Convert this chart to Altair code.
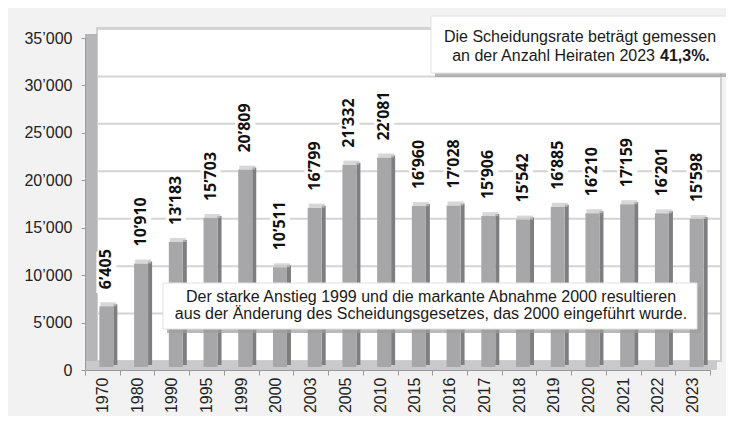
import altair as alt
import pandas as pd

years = ["1970", "1980", "1990", "1995", "1999", "2000", "2003", "2005", "2010",
         "2015", "2016", "2017", "2018", "2019", "2020", "2021", "2022", "2023"]
values = [6405, 10910, 13183, 15703, 20809, 10511, 16799, 21332, 22081,
          16960, 17028, 15906, 15542, 16885, 16210, 17159, 16201, 15598]
labels = [f"{v:,}".replace(",", "\u2019") for v in values]
y_ticks = [0, 5000, 10000, 15000, 20000, 25000, 30000, 35000]
grid_values = [5000, 10000, 15000, 20000, 25000, 30000, 35000]

note_top_1 = "Die Scheidungsrate beträgt gemessen"
note_top_2a = "an der Anzahl Heiraten 2023"
note_top_2b = "41,3%."
note_bottom_1 = "Der starke Anstieg 1999 und die markante Abnahme 2000 resultieren"
note_bottom_2 = "aus der Änderung des Scheidungsgesetzes, das 2000 eingeführt wurde."

df = pd.DataFrame({"year": years, "v": values, "label": labels})
one = pd.DataFrame({"d": [0]})
grid = pd.DataFrame({"g": grid_values})

FONT = "Liberation Sans"

yscale = alt.Scale(domain=[0, 35000], nice=False, zero=True)
yaxis = alt.Axis(values=y_ticks, title=None, grid=False,
                 labelExpr="replace(format(datum.value, ','), ',', '\u2019')",
                 labelFont=FONT, labelFontSize=16, labelColor="#222222",
                 tickSize=4, tickColor="#9a9a9a", domainColor="#9a9a9a",
                 labelPadding=9, zindex=1)
xscale = alt.Scale(domain=years, paddingInner=0, paddingOuter=0)
xaxis = alt.Axis(title=None, labelAngle=270, labelFont=FONT, labelFontSize=16,
                 labelColor="#222222", tickBand="extent", tickSize=5,
                 tickColor="#9a9a9a", domainColor="#9a9a9a", labelPadding=2,
                 zindex=1)

X = alt.X("year:N", sort=years, scale=xscale, axis=xaxis)
Y = alt.Y("v:Q", scale=yscale, axis=yaxis)

wall = alt.Chart(one).mark_rect(fill="white", stroke="#cfcfcf", strokeWidth=2).encode(
    x=alt.value(12), x2=alt.value(636), y=alt.value(-10), y2=alt.value(323))
leftwall = alt.Chart(one).mark_rect(fill="#b6b6b8").encode(
    x=alt.value(0), x2=alt.value(12), y=alt.value(-4), y2=alt.value(332))
floor = alt.Chart(one).mark_rect(fill="#c9c9cb").encode(
    x=alt.value(0), x2=alt.value(632), y=alt.value(323), y2=alt.value(332))

gridlines = alt.Chart(grid).mark_rule(color="#d4d4d4", strokeWidth=2, yOffset=-9).encode(
    y=alt.Y("g:Q", scale=yscale, axis=yaxis), x=alt.value(12), x2=alt.value(635))

label_boxes = alt.Chart(df).transform_calculate(vt="datum.v + 6100").mark_bar(
    color="white", size=20, xOffset=4, yOffset=-16).encode(x=X, y=Y, y2="vt:Q")

bar_side = alt.Chart(df).mark_bar(color="#7e7e81", size=4, xOffset=13, yOffset=-5).encode(x=X, y=Y)
bar_front = alt.Chart(df).mark_bar(color="#a7a7aa", size=14, xOffset=4, yOffset=-3).encode(x=X, y=Y)
bar_top = alt.Chart(df).mark_tick(orient="horizontal", color="#c6c6c8", thickness=4,
                                  size=16, xOffset=6, yOffset=-5).encode(x=X, y=Y)

value_labels = alt.Chart(df).mark_text(
    angle=270, align="left", baseline="middle", font="Open Sans", fontWeight="bold",
    fontSize=16, color="#111111", xOffset=4, yOffset=-20).encode(x=X, y=Y, text="label:N")

# top annotation
top_shadow = alt.Chart(one).mark_rect(fill="#9d9d9d", opacity=0.7).encode(
    x=alt.value(350), x2=alt.value(646), y=alt.value(-18), y2=alt.value(39))
top_box = alt.Chart(one).mark_rect(fill="white", stroke="#e2e2e2", strokeWidth=1).encode(
    x=alt.value(346), x2=alt.value(642), y=alt.value(-22), y2=alt.value(35))
top_t1 = alt.Chart(one).mark_text(font=FONT, fontSize=16, color="#1a1a1a", align="center",
                                  baseline="alphabetic").encode(
    x=alt.value(495), y=alt.value(4), text=alt.value(note_top_1))
top_t2a = alt.Chart(one).mark_text(font=FONT, fontSize=16, color="#1a1a1a", align="right",
                                   baseline="alphabetic").encode(
    x=alt.value(570), y=alt.value(23), text=alt.value(note_top_2a))
top_t2b = alt.Chart(one).mark_text(font=FONT, fontSize=16, color="#1a1a1a", align="left",
                                   baseline="alphabetic", fontWeight="bold").encode(
    x=alt.value(575), y=alt.value(23), text=alt.value(note_top_2b))

# bottom annotation
bot_shadow = alt.Chart(one).mark_rect(fill="#9d9d9d", opacity=0.7).encode(
    x=alt.value(82), x2=alt.value(616), y=alt.value(249), y2=alt.value(295))
bot_box = alt.Chart(one).mark_rect(fill="white", stroke="#e2e2e2", strokeWidth=1).encode(
    x=alt.value(78), x2=alt.value(612), y=alt.value(245), y2=alt.value(291))
bot_t1 = alt.Chart(one).mark_text(font=FONT, fontSize=16, color="#1a1a1a", align="center",
                                  baseline="alphabetic").encode(
    x=alt.value(346), y=alt.value(264), text=alt.value(note_bottom_1))
bot_t2 = alt.Chart(one).mark_text(font=FONT, fontSize=16, color="#1a1a1a", align="center",
                                  baseline="alphabetic").encode(
    x=alt.value(346), y=alt.value(281), text=alt.value(note_bottom_2))

chart = alt.layer(
    wall, leftwall, floor, gridlines, label_boxes, bar_side, bar_front, bar_top,
    value_labels, top_shadow, top_box, top_t1, top_t2a, top_t2b,
    bot_shadow, bot_box, bot_t1, bot_t2
).properties(
    width=625, height=332,
    padding={"left": 77, "top": 30, "right": 16, "bottom": 46},
    autosize=alt.AutoSizeParams(type="none"),
    background="#f2f2f2",
).configure_view(stroke=None)

chart.save("out.html", embed_options={"renderer": "svg", "actions": False})
